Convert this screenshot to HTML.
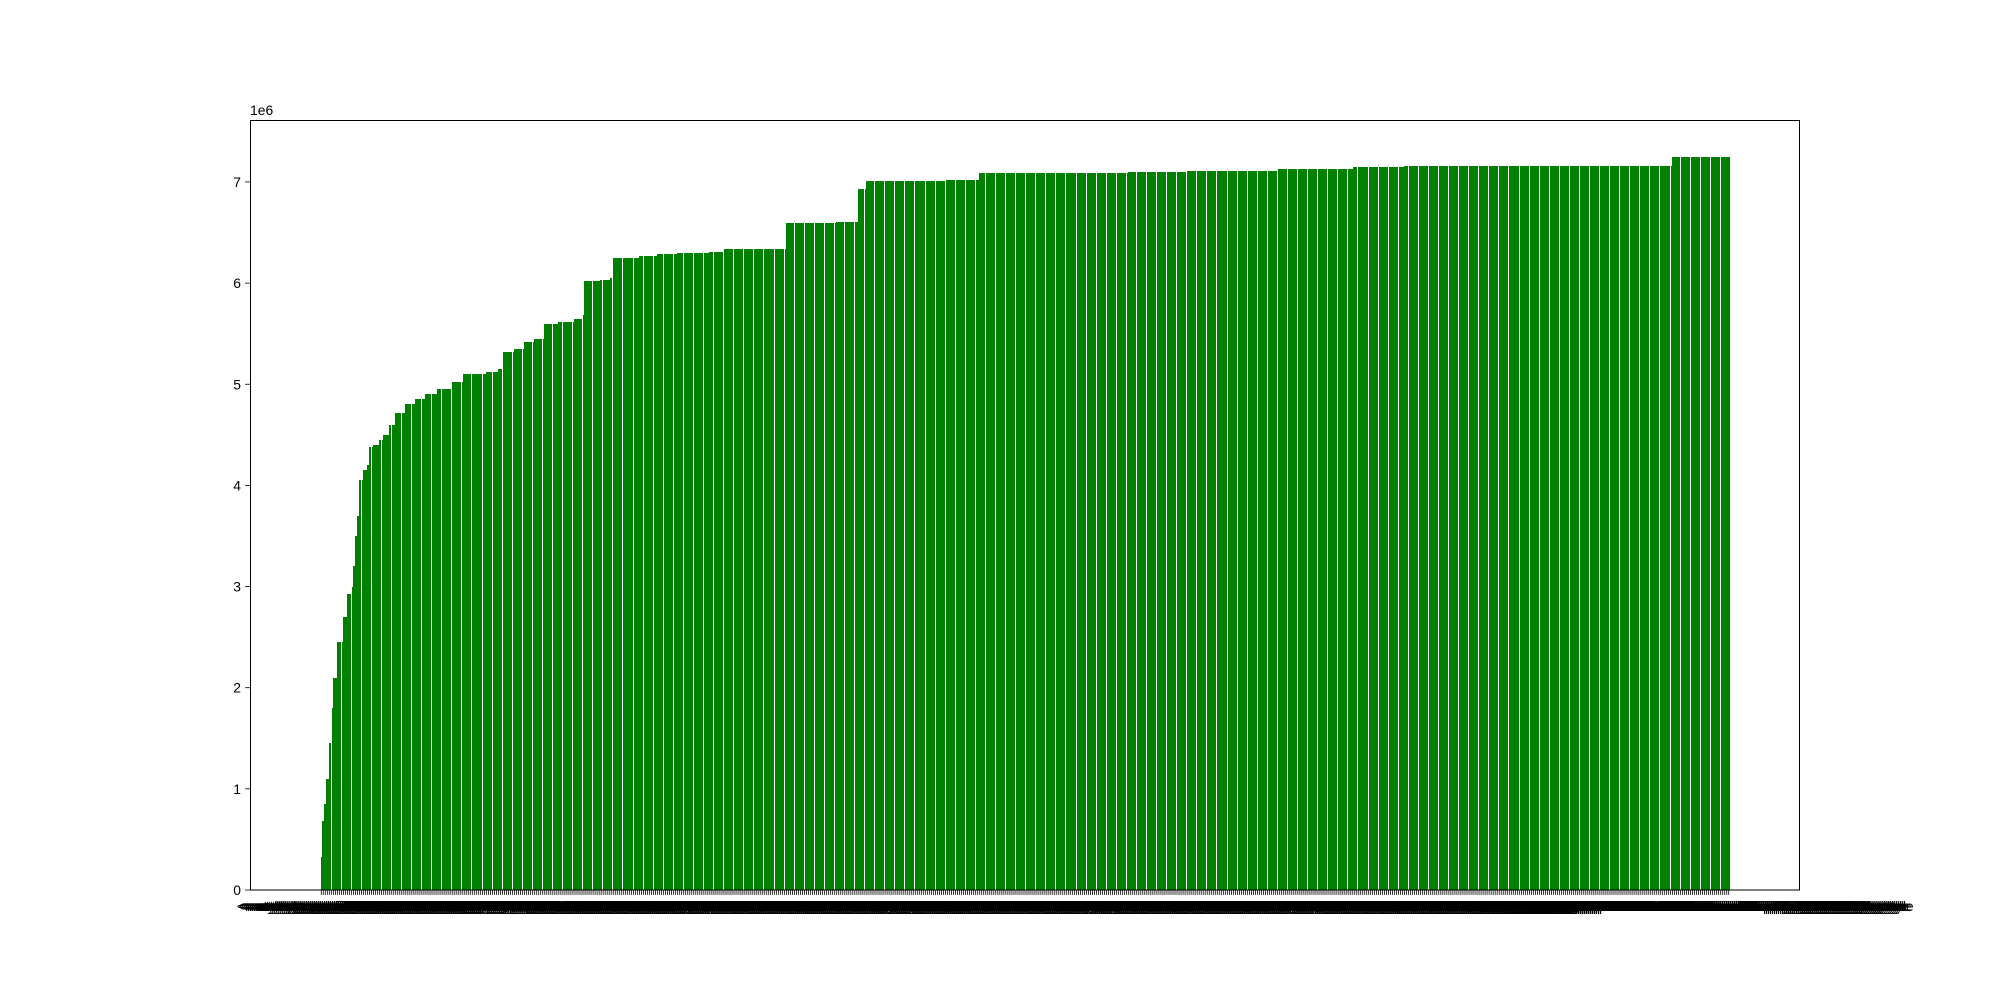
<!DOCTYPE html>
<html><head><meta charset="utf-8"><style>
html,body{margin:0;padding:0;background:#fff;}
svg{display:block;font-family:"Liberation Sans","DejaVu Sans",sans-serif;}
</style></head><body>
<svg id="chart" width="2000" height="1000" xmlns="http://www.w3.org/2000/svg">
<rect x="0" y="0" width="2000" height="1000" fill="#fff"/>
<g id="bars" shape-rendering="crispEdges"></g>
<g id="xticks"></g>
<g id="yticks"></g>
<rect x="250.5" y="120.5" width="1549" height="769.5" fill="none" stroke="#000" stroke-width="1"/>
<text x="250" y="115" font-size="13.9">1e6</text>
</svg>
<script>
// run-length encoded bar values (millions)
const runValues = [0.33,0.68,0.85,1.1,1.45,1.8,2.1,2.45,2.7,2.93,3.0,3.2,3.5,3.7,4.05,4.15,4.2,4.38,4.4,4.45,4.5,4.6,4.72,4.8,4.85,4.9,4.95,5.02,5.1,5.12,5.15,5.32,5.35,5.42,5.45,5.6,5.62,5.65,5.68,6.02,6.03,6.05,6.25,6.27,6.29,6.30,6.31,6.34,6.59,6.60,6.93,7.01,7.02,7.09,7.10,7.11,7.13,7.15,7.16,7.25];
const runLengths = [1,1,1,1,1,1,2,3,2,2,1,1,1,1,2,2,1,2,3,2,3,3,5,5,5,6,7,6,11,6,2,6,5,5,5,7,8,4,1,8,5,1,13,9,10,16,7,31,25,11,4,39,17,74,29,45,38,25,133,29];
const yTicks = [0,1,2,3,4,5,6,7];
const yTickLabels = ["0","1","2","3","4","5","6","7"];
const labelStem = "<mstylespace width=";

const values = [];
runValues.forEach((v,i)=>{for(let k=0;k<runLengths[i];k++)values.push(v*1e6);});
const categories = values.map((v,i)=> i>650 ? labelStem+i+"em/> mathsize=normal displaystyle" : labelStem+i+"em/>");
const N = values.length;
const L=250,R=1800,T=120,B=890;
const yMax = Math.max(...values)*1.05;
const y = v => B - v/yMax*(B-T);
const span = (N-1)+0.8;
const x0 = -0.4 - 0.05*span, x1 = N-1+0.4+0.05*span;
const x = i => L + (i-x0)/(x1-x0)*(R-L);
const pitch = (R-L)/(x1-x0);
const NS="http://www.w3.org/2000/svg";
const gB=document.getElementById('bars'),gX=document.getElementById('xticks'),gY=document.getElementById('yticks');
values.forEach((v,i)=>{
  const r=document.createElementNS(NS,'rect');
  
  
  let xl=Math.round(x(i)-0.4*pitch), xr=Math.round(x(i)+0.6*pitch);
  if(i===N-1) xr=Math.round(x(i)+0.4*pitch);
  if(i%5===0) xl+=1;
  const yt=Math.round(y(v));
  r.setAttribute('x',xl);r.setAttribute('y',yt);
  r.setAttribute('width',Math.max(1,xr-xl));r.setAttribute('height',B-yt);
  r.setAttribute('fill','#008000');
  gB.appendChild(r);
  const t=document.createElementNS(NS,'line');
  
  
  t.setAttribute('x1',x(i));t.setAttribute('x2',x(i));t.setAttribute('y1',B);t.setAttribute('y2',B+4.9);
  t.setAttribute('stroke','#000');t.setAttribute('stroke-width','0.8');
  gX.appendChild(t);
  const lb=document.createElementNS(NS,'text');
  
  
  lb.setAttribute('x',x(i));lb.setAttribute('y',B+21);
  lb.setAttribute('text-anchor','middle');lb.setAttribute('font-size','13.9');
  lb.textContent=categories[i];
  gX.appendChild(lb);
});
yTicks.forEach((t,i)=>{
  const ln=document.createElementNS(NS,'line');
  
  
  ln.setAttribute('x1',L-4.9);ln.setAttribute('x2',L);ln.setAttribute('y1',y(t*1e6));ln.setAttribute('y2',y(t*1e6));
  ln.setAttribute('stroke','#000');ln.setAttribute('stroke-width','0.8');
  gY.appendChild(ln);
  const tx=document.createElementNS(NS,'text');
  
  
  tx.setAttribute('x',L-9);tx.setAttribute('y',y(t*1e6)+5);
  tx.setAttribute('text-anchor','end');tx.setAttribute('font-size','13.9');
  tx.textContent=yTickLabels[i];
  gY.appendChild(tx);
});
</script>
</body></html>
